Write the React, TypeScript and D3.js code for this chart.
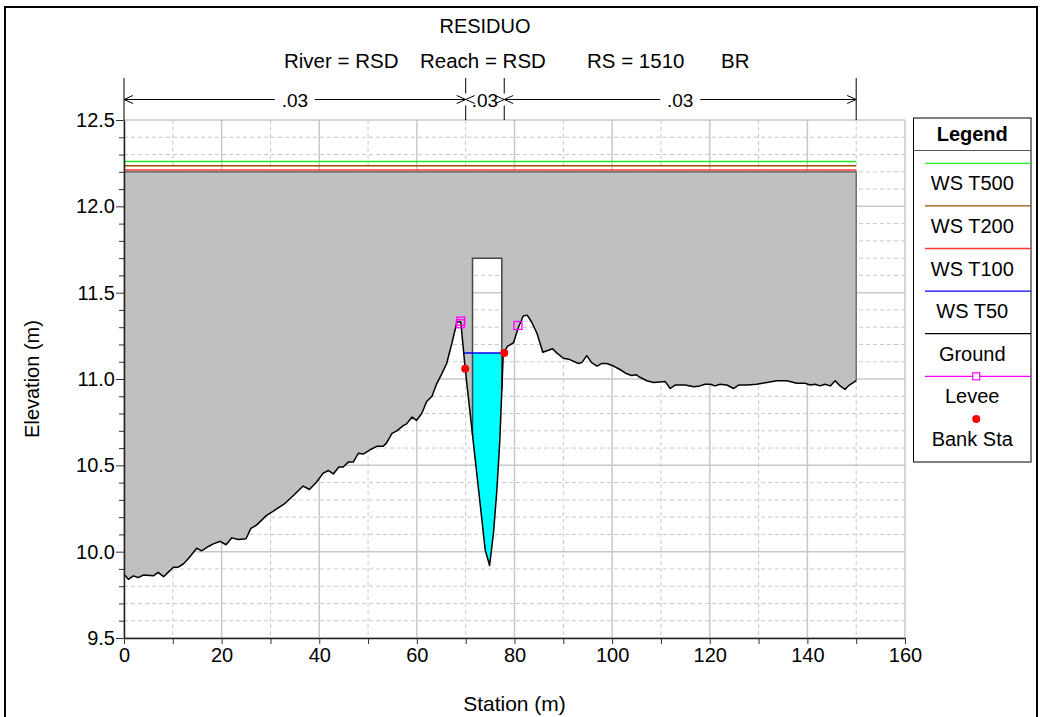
import * as d3 from "d3";
import React, { useEffect, useRef } from "react";

// Ground profile (station m, elevation m)
const groundSta = [
  0, 0.9, 1.9, 2.9, 4.0, 6.0, 7.0, 8.1, 9.4, 10.1, 11.1, 12.2, 13.2, 14.9, 15.9, 17.3, 18.3, 19.7,
  20.9, 22.1, 23.4, 25.0, 26.0, 27.2, 29.2, 30.6, 33.0, 34.7, 36.7, 38.0, 39.5, 40.8, 41.9, 42.9,
  44.0, 44.9, 46.0, 47.0, 48.0, 49.0, 50.4, 51.8, 53.1, 53.8, 54.9, 55.9, 57.2, 57.9, 59.0, 59.9,
  61.0, 62.0, 63.1, 64.1, 65.1, 66.1, 67.2, 68.2, 69.0, 69.9, 74.0, 74.9, 75.7, 76.4, 77.0, 77.7,
  78.6, 79.8, 80.8, 81.8, 82.6, 83.5, 84.6, 85.8, 87.8, 88.7, 90.0, 91.1, 93.1, 93.8, 94.8, 95.8,
  96.9, 97.9, 98.9, 100.3, 101.6, 103.0, 104.0, 104.9, 105.7, 107.1, 108.5, 110.9, 111.9, 112.9,
  115.0, 116.7, 118.0, 119.0, 120.1, 121.1, 122.1, 123.5, 124.9, 125.9, 127.6, 129.6, 131.7, 133.7,
  135.8, 137.8, 139.5, 140.6, 141.6, 142.6, 143.6, 144.7, 145.7, 146.7, 147.7, 148.6, 150.0,
];
const groundElev = [
  9.87, 9.84, 9.86, 9.85, 9.865, 9.86, 9.88, 9.855, 9.89, 9.91, 9.91, 9.93, 9.96, 10.02, 10.005, 10.03, 10.045, 10.06,
  10.04, 10.08, 10.07, 10.075, 10.135, 10.155, 10.21, 10.235, 10.28, 10.325, 10.38, 10.36, 10.405, 10.455, 10.47, 10.45,
  10.49, 10.49, 10.52, 10.52, 10.57, 10.565, 10.59, 10.61, 10.61, 10.63, 10.685, 10.7, 10.73, 10.74, 10.78, 10.76,
  10.8, 10.87, 10.9, 10.975, 11.03, 11.09, 11.21, 11.33, 11.33, 11.06, 10.01, 9.92, 10.11, 10.36, 10.65, 11.15,
  11.19, 11.21, 11.3, 11.365, 11.37, 11.33, 11.265, 11.155, 11.175, 11.15, 11.12, 11.115, 11.09, 11.095, 11.135, 11.095,
  11.075, 11.09, 11.09, 11.075, 11.055, 11.03, 11.02, 11.025, 11.01, 10.99, 10.98, 10.985, 10.945, 10.965,
  10.965, 10.955, 10.96, 10.97, 10.97, 10.96, 10.97, 10.965, 10.945, 10.965, 10.965, 10.97, 10.98, 10.99,
  10.99, 10.975, 10.975, 10.965, 10.97, 10.96, 10.97, 10.96, 10.99, 10.96, 10.94, 10.965, 10.99,
];

// Water surface profiles
const wsNames = ["WS T500", "WS T200", "WS T100", "WS T50"];
const wsElev = [12.26, 12.235, 12.21, 11.15];
const wsFrom = [0, 0, 0, 69.7];
const wsTo = [150, 150, 150, 78.1];
const wsColors = ["#22ee22", "#9a4d00", "#ff3333", "#0000ff"];

// Bridge deck and opening
const deckTop = 12.2;
const deckSta = [0, 150];
const openingSta = [71.4, 77.4];
const openingTop = 11.7;

// Levees and bank stations
const leveeSta = [68.9, 69.0, 80.7];
const leveeElev = [11.32, 11.335, 11.31];
const bankSta = [69.9, 77.9];
const bankElev = [11.06, 11.15];

// Manning's n regions
const nBreaks = [0, 70, 77.9, 150];
const nLabels = [".03", ".03", ".03"];

// Axes
const xMajor = [0, 20, 40, 60, 80, 100, 120, 140, 160];
const xMinor = [10, 30, 50, 70, 90, 110, 130, 150];
const yMajor = [9.5, 10.0, 10.5, 11.0, 11.5, 12.0, 12.5];

const legendNames = ["WS T500", "WS T200", "WS T100", "WS T50", "Ground", "Levee", "Bank Sta"];

const FONT = "'Liberation Sans', Arial, Helvetica, sans-serif";

const App: React.FC = () => {
  const ref = useRef<SVGSVGElement>(null);

  useEffect(() => {
    if (!ref.current) return;
    const svg = d3.select(ref.current);
    svg.selectAll("*").remove();

    const x = d3.scaleLinear().domain([0, 160]).range([124, 905]);
    const y = d3.scaleLinear().domain([9.5, 12.5]).range([638, 120]);

    const ground = groundSta.map((s, i) => ({ s, e: groundElev[i] }));
    const groundAt = (s: number) => {
      const i = d3.bisector((d: { s: number }) => d.s).left(ground, s);
      if (i <= 0) return ground[0].e;
      if (i >= ground.length) return ground[ground.length - 1].e;
      const a = ground[i - 1], b = ground[i];
      return a.e + ((s - a.s) / (b.s - a.s)) * (b.e - a.e);
    };

    // defs
    const defs = svg.append("defs");
    const mask = defs.append("mask").attr("id", "deckMask");
    mask.append("rect").attr("x", 0).attr("y", 0).attr("width", 1040).attr("height", 717).attr("fill", "white");
    mask
      .append("rect")
      .attr("x", x(openingSta[0]))
      .attr("y", y(openingTop))
      .attr("width", x(openingSta[1]) - x(openingSta[0]))
      .attr("height", y(9.5) - y(openingTop))
      .attr("fill", "black");
    defs
      .append("clipPath")
      .attr("id", "waterClip")
      .append("rect")
      .attr("x", x(openingSta[0]))
      .attr("y", y(wsElev[3]))
      .attr("width", x(openingSta[1]) - x(openingSta[0]))
      .attr("height", y(9.5) - y(wsElev[3]));

    // frame
    svg
      .append("rect")
      .attr("x", 5)
      .attr("y", 7)
      .attr("width", 1032)
      .attr("height", 720)
      .attr("fill", "white")
      .attr("stroke", "#000")
      .attr("stroke-width", 2);

    // grid
    const grid = svg.append("g");
    const yMinor = d3.range(95, 126).map((v) => v / 10).filter((v) => Math.round(v * 10) % 5 !== 0);
    grid
      .selectAll(".ymin")
      .data(yMinor)
      .enter()
      .append("line")
      .attr("x1", x(0))
      .attr("x2", x(160))
      .attr("y1", (d) => y(d))
      .attr("y2", (d) => y(d))
      .attr("stroke", "#c8c8c8")
      .attr("stroke-dasharray", "4,3");
    grid
      .selectAll(".xmin")
      .data(xMinor)
      .enter()
      .append("line")
      .attr("x1", (d) => x(d))
      .attr("x2", (d) => x(d))
      .attr("y1", y(12.5))
      .attr("y2", y(9.5))
      .attr("stroke", "#c8c8c8")
      .attr("stroke-dasharray", "4,3");
    grid
      .selectAll(".ymaj")
      .data(yMajor)
      .enter()
      .append("line")
      .attr("x1", x(0))
      .attr("x2", x(160))
      .attr("y1", (d) => y(d))
      .attr("y2", (d) => y(d))
      .attr("stroke", "#c8c8c8")
      .attr("stroke-width", 1.5);
    grid
      .selectAll(".xmaj")
      .data(xMajor)
      .enter()
      .append("line")
      .attr("x1", (d) => x(d))
      .attr("x2", (d) => x(d))
      .attr("y1", y(12.5))
      .attr("y2", y(9.5))
      .attr("stroke", "#c8c8c8")
      .attr("stroke-width", 1.5);

    // bridge deck (gray) down to ground, minus opening
    const last = ground[ground.length - 1];
    const deckPts: [number, number][] = [
      [deckSta[0], deckTop],
      [deckSta[1], deckTop],
      [deckSta[1], last.e],
      ...ground.slice().reverse().map((d) => [d.s, d.e] as [number, number]),
      [deckSta[0], deckTop],
    ];
    const line = d3
      .line<[number, number]>()
      .x((d) => x(d[0]))
      .y((d) => y(d[1]));
    svg
      .append("path")
      .attr("d", line(deckPts))
      .attr("fill", "#c0c0c0")
      .attr("mask", "url(#deckMask)");
    svg
      .append("path")
      .attr("d", line([[deckSta[0], deckTop], [deckSta[1], deckTop], [deckSta[1], last.e]]))
      .attr("fill", "none")
      .attr("stroke", "#555")
      .attr("stroke-width", 1.2);

    // water in the opening
    const waterPts = ground.filter((d) => d.s >= 68 && d.s <= 80);
    svg
      .append("path")
      .attr(
        "d",
        d3
          .area<{ s: number; e: number }>()
          .x((d) => x(d.s))
          .y0((d) => y(d.e))
          .y1(y(wsElev[3]))(waterPts)
      )
      .attr("fill", "#00ffff")
      .attr("clip-path", "url(#waterClip)");

    // opening outline
    svg
      .append("path")
      .attr(
        "d",
        line([
          [openingSta[0], groundAt(openingSta[0])],
          [openingSta[0], openingTop],
          [openingSta[1], openingTop],
          [openingSta[1], groundAt(openingSta[1])],
        ])
      )
      .attr("fill", "none")
      .attr("stroke", "#444")
      .attr("stroke-width", 1.5);

    // water surfaces
    wsNames.forEach((_, i) => {
      svg
        .append("line")
        .attr("x1", x(wsFrom[i]))
        .attr("x2", x(wsTo[i]))
        .attr("y1", y(wsElev[i]))
        .attr("y2", y(wsElev[i]))
        .attr("stroke", wsColors[i])
        .attr("stroke-width", 1.5);
    });

    // ground line
    svg
      .append("path")
      .attr("d", line(ground.map((d) => [d.s, d.e] as [number, number])))
      .attr("fill", "none")
      .attr("stroke", "#000")
      .attr("stroke-width", 1.5)
      .attr("stroke-linejoin", "round");

    // levees
    svg
      .selectAll(".levee")
      .data(leveeSta)
      .enter()
      .append("rect")
      .attr("x", (d) => x(d) - 4)
      .attr("y", (_, i) => y(leveeElev[i]) - 4)
      .attr("width", 8)
      .attr("height", 8)
      .attr("fill", "none")
      .attr("stroke", "#ff00ff")
      .attr("stroke-width", 1.3);

    // bank stations
    svg
      .selectAll(".bank")
      .data(bankSta)
      .enter()
      .append("circle")
      .attr("cx", (d) => x(d))
      .attr("cy", (_, i) => y(bankElev[i]))
      .attr("r", 4)
      .attr("fill", "#ff0000");

    // axes
    const yAxisMinor = svg
      .append("g")
      .attr("transform", `translate(${x(0)},0)`)
      .call(d3.axisLeft(y).tickValues(yMinor).tickSize(5).tickFormat(() => ""));
    yAxisMinor.select(".domain").remove();
    const yAxis = svg
      .append("g")
      .attr("transform", `translate(${x(0)},0)`)
      .call(d3.axisLeft(y).tickValues(yMajor).tickSize(8).tickSizeOuter(0).tickFormat(d3.format(".1f")));
    const xAxisMinor = svg
      .append("g")
      .attr("transform", `translate(0,${y(9.5)})`)
      .call(d3.axisBottom(x).tickValues(xMinor).tickSize(6).tickFormat(() => ""));
    xAxisMinor.select(".domain").remove();
    const xAxis = svg
      .append("g")
      .attr("transform", `translate(0,${y(9.5)})`)
      .call(d3.axisBottom(x).tickValues(xMajor).tickSize(6).tickSizeOuter(0).tickFormat(d3.format("d")));
    [yAxis, xAxis, yAxisMinor, xAxisMinor].forEach((g) => {
      g.selectAll("line").attr("stroke", "#333");
      g.select(".domain").attr("stroke", "#222").attr("stroke-width", 1.5);
      g.selectAll("text").attr("font-family", FONT).attr("font-size", 20).attr("fill", "#000");
    });
    yAxis.selectAll("text").attr("x", -9);
    xAxis.selectAll("text").attr("y", 10);

    // axis titles
    svg
      .append("text")
      .attr("transform", `translate(39,${(y(9.5) + y(12.5)) / 2}) rotate(-90)`)
      .attr("text-anchor", "middle")
      .attr("font-family", FONT)
      .attr("font-size", 20)
      .text("Elevation (m)");
    svg
      .append("text")
      .attr("x", (x(0) + x(160)) / 2)
      .attr("y", 711)
      .attr("text-anchor", "middle")
      .attr("font-family", FONT)
      .attr("font-size", 21)
      .text("Station (m)");

    // titles
    svg
      .append("text")
      .attr("x", 485)
      .attr("y", 33)
      .attr("text-anchor", "middle")
      .attr("font-family", FONT)
      .attr("font-size", 20)
      .text("RESIDUO");
    const sub = [
      { t: "River = RSD", x: 284 },
      { t: "Reach = RSD", x: 420 },
      { t: "RS = 1510", x: 587 },
      { t: "BR", x: 721 },
    ];
    svg
      .selectAll(".sub")
      .data(sub)
      .enter()
      .append("text")
      .attr("x", (d) => d.x)
      .attr("y", 68)
      .attr("font-family", FONT)
      .attr("font-size", 20.5)
      .text((d) => d.t);

    // n-value annotation
    const ann = svg.append("g");
    const ay = 99.5;
    nBreaks.forEach((b) => {
      ann
        .append("line")
        .attr("x1", x(b))
        .attr("x2", x(b))
        .attr("y1", 78)
        .attr("y2", y(12.5))
        .attr("stroke", "#000")
        .attr("stroke-width", 1);
    });
    ann
      .append("line")
      .attr("x1", x(nBreaks[0]))
      .attr("x2", x(nBreaks[nBreaks.length - 1]))
      .attr("y1", ay)
      .attr("y2", ay)
      .attr("stroke", "#000");
    nLabels.forEach((lab, i) => {
      const cx = (x(nBreaks[i]) + x(nBreaks[i + 1])) / 2;
      ann
        .append("rect")
        .attr("x", cx - 20)
        .attr("y", ay - 6)
        .attr("width", 40)
        .attr("height", 12)
        .attr("fill", "white");
      ann
        .append("text")
        .attr("x", cx)
        .attr("y", ay + 7)
        .attr("text-anchor", "middle")
        .attr("font-family", FONT)
        .attr("font-size", 19)
        .text(lab);
    });
    for (let i = 0; i < nBreaks.length - 1; i++) {
      const a = x(nBreaks[i]), b = x(nBreaks[i + 1]);
      ann
        .append("path")
        .attr("d", `M${a + 9},${ay - 4}L${a},${ay}L${a + 9},${ay + 4}M${b - 9},${ay - 4}L${b},${ay}L${b - 9},${ay + 4}`)
        .attr("fill", "none")
        .attr("stroke", "#000");
    }

    // legend
    const lg = svg.append("g");
    const lx0 = 913.5, lx1 = 1031, ly0 = 118, ly1 = 462;
    lg.append("rect")
      .attr("x", lx0)
      .attr("y", ly0)
      .attr("width", lx1 - lx0)
      .attr("height", ly1 - ly0)
      .attr("fill", "white")
      .attr("stroke", "#000");
    lg.append("line").attr("x1", lx0).attr("x2", lx1).attr("y1", 150.5).attr("y2", 150.5).attr("stroke", "#555");
    const lcx = (lx0 + lx1) / 2;
    lg.append("text")
      .attr("x", lcx)
      .attr("y", 141)
      .attr("text-anchor", "middle")
      .attr("font-family", FONT)
      .attr("font-weight", "bold")
      .attr("font-size", 20)
      .text("Legend");
    const legendColors = [...wsColors, "#000", "#ff00ff"];
    legendNames.forEach((name, i) => {
      const ly = 163.3 + i * 42.6;
      if (i < 6) {
        lg.append("line")
          .attr("x1", 925)
          .attr("x2", lx1)
          .attr("y1", ly)
          .attr("y2", ly)
          .attr("stroke", legendColors[i])
          .attr("stroke-width", 1.3);
      }
      if (i === 5) {
        lg.append("rect")
          .attr("x", lcx + 4 - 3.5)
          .attr("y", ly - 3.5)
          .attr("width", 7)
          .attr("height", 7)
          .attr("fill", "white")
          .attr("stroke", "#ff00ff")
          .attr("stroke-width", 1.2);
      }
      if (i === 6) {
        lg.append("circle").attr("cx", lcx + 4).attr("cy", ly).attr("r", 4).attr("fill", "#ff0000");
      }
      lg.append("text")
        .attr("x", lcx)
        .attr("y", ly + 27)
        .attr("text-anchor", "middle")
        .attr("font-family", FONT)
        .attr("font-size", 20)
        .text(name);
    });
  }, []);

  return (
    <svg
      ref={ref}
      width={1040}
      height={717}
      style={{ position: "absolute", left: 0, top: 0, background: "white" }}
    />
  );
};

export default App;
